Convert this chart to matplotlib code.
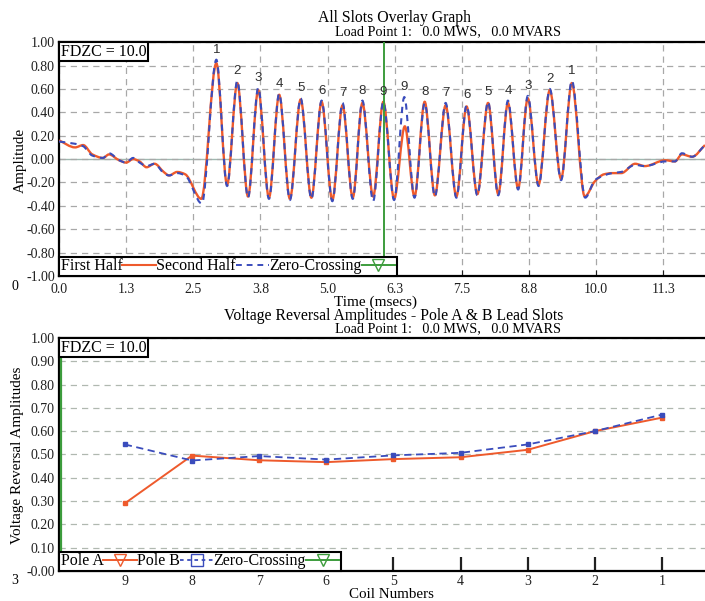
import numpy as np
import matplotlib
matplotlib.use("Agg")
import matplotlib.pyplot as plt
from matplotlib.path import Path
from matplotlib.patches import PathPatch
from matplotlib.lines import Line2D

plt.rcParams['font.family'] = ['Liberation Serif', 'DejaVu Serif']

# ---- top chart: overlay waveform (extrema / knee points) ----
first_t = [0.00, 0.30, 0.45, 0.62, 0.82, 0.93, 1.12, 1.25, 1.38, 1.50, 1.63, 1.78,
           1.95, 2.05, 2.20, 2.35, 2.65,
           2.93, 3.13, 3.32, 3.52, 3.71, 3.91, 4.10, 4.30, 4.50, 4.70, 4.89, 5.09,
           5.28, 5.47, 5.65, 5.85, 6.04, 6.24, 6.44, 6.62, 6.81, 7.00, 7.20, 7.40,
           7.59, 7.79, 7.99, 8.18, 8.36, 8.55, 8.73, 8.93, 9.14, 9.35, 9.55, 9.79,
           9.98, 10.15, 10.30, 10.47, 10.73, 10.91, 11.29, 11.47, 11.60, 11.79, 12.03]
first_a = [0.16, 0.10, 0.12, 0.04, 0.01, 0.04, -0.01, -0.03, 0.00, -0.02, -0.07, -0.04,
           -0.11, -0.14, -0.11, -0.13, -0.34,
           0.82, -0.22, 0.65, -0.32, 0.59, -0.33, 0.55, -0.34, 0.51, -0.33, 0.49, -0.35,
           0.46, -0.33, 0.48, -0.32, 0.49, -0.34, 0.28, -0.32, 0.49, -0.31, 0.46, -0.32,
           0.45, -0.30, 0.48, -0.30, 0.48, -0.25, 0.52, -0.22, 0.59, -0.17, 0.65, -0.32,
           -0.19, -0.13, -0.12, -0.12, -0.04, -0.06, -0.01, -0.02, 0.04, 0.02, 0.12]

second_t = [0.00, 0.31, 0.45, 0.62, 0.82, 0.93, 1.12, 1.25, 1.38, 1.50, 1.63, 1.78,
            1.95, 2.05, 2.20, 2.35, 2.66,
            2.93, 3.13, 3.32, 3.52, 3.71, 3.91, 4.10, 4.30, 4.50, 4.70, 4.89, 5.09,
            5.28, 5.47, 5.65, 5.85, 6.04, 6.24, 6.43, 6.62, 6.81, 7.00, 7.20, 7.40,
            7.59, 7.79, 7.99, 8.18, 8.36, 8.55, 8.73, 8.93, 9.14, 9.35, 9.55, 9.80,
            9.98, 10.15, 10.30, 10.47, 10.73, 10.91, 11.29, 11.47, 11.60, 11.79, 12.03]
second_a = [0.15, 0.13, 0.11, 0.03, 0.01, 0.05, -0.01, -0.03, 0.01, -0.03, -0.06, -0.04,
            -0.12, -0.14, -0.12, -0.14, -0.38,
            0.85, -0.23, 0.67, -0.33, 0.61, -0.34, 0.56, -0.35, 0.52, -0.34, 0.50, -0.36,
            0.48, -0.34, 0.50, -0.36, 0.49, -0.35, 0.53, -0.33, 0.48, -0.32, 0.48, -0.33,
            0.46, -0.31, 0.49, -0.31, 0.50, -0.26, 0.54, -0.23, 0.60, -0.18, 0.67, -0.33,
            -0.18, -0.14, -0.12, -0.11, -0.05, -0.06, -0.02, -0.02, 0.05, 0.02, 0.12]

peak_labels = ['1', '2', '3', '4', '5', '6', '7', '8', '9',
               '9', '8', '7', '6', '5', '4', '3', '2', '1']
zero_cross_t = 6.05

time_ticks = [0.0, 1.25, 2.5, 3.75, 5.0, 6.25, 7.5, 8.75, 10.0, 11.25]
time_tick_labels = ['0.0', '1.3', '2.5', '3.8', '5.0', '6.3', '7.5', '8.8', '10.0', '11.3']
amp_ticks = [1.0, 0.8, 0.6, 0.4, 0.2, 0.0, -0.2, -0.4, -0.6, -0.8, -1.0]

# ---- bottom chart: reversal amplitudes per coil ----
coils = [9, 8, 7, 6, 5, 4, 3, 2, 1]
pole_a = [0.29, 0.495, 0.475, 0.467, 0.48, 0.488, 0.52, 0.60, 0.658]
pole_b = [0.543, 0.474, 0.493, 0.478, 0.496, 0.507, 0.543, 0.60, 0.671]
vr_ticks = [1.0, 0.9, 0.8, 0.7, 0.6, 0.5, 0.4, 0.3, 0.2, 0.1, 0.0]
vr_tick_labels = ['1.00', '0.90', '0.80', '0.70', '0.60', '0.50', '0.40', '0.30',
                  '0.20', '0.10', '-0.00']

RED = '#ee5a2c'
BLUE = '#3a4cbc'
GREEN = '#3c9c3c'
GRID = '#a8a8a8'


def smooth_path(t, a):
    # cubic Bezier through the read points, flat at turning points
    t = np.asarray(t, float)
    a = np.asarray(a, float)
    h = np.diff(t)
    d = np.diff(a) / h
    m = np.zeros_like(a)
    for i in range(1, len(a) - 1):
        if d[i - 1] * d[i] > 0:
            m[i] = 2.0 / (1.0 / d[i - 1] + 1.0 / d[i])
    m[0] = d[0]
    m[-1] = d[-1]
    verts = [(t[0], a[0])]
    codes = [Path.MOVETO]
    for i in range(len(h)):
        verts += [(t[i] + h[i] / 3, a[i] + m[i] * h[i] / 3),
                  (t[i + 1] - h[i] / 3, a[i + 1] - m[i + 1] * h[i] / 3),
                  (t[i + 1], a[i + 1])]
        codes += [Path.CURVE4] * 3
    return Path(verts, codes)


def fdzc_box(ax):
    ax.text(0.003, 0.993, 'FDZC = 10.0', transform=ax.transAxes, ha='left', va='top',
            fontsize=11.5, zorder=10,
            bbox=dict(boxstyle='square,pad=0.1', fc='white', ec='black', lw=1.5))


def style_axes(ax):
    for side in ['top', 'bottom', 'left']:
        ax.spines[side].set_linewidth(1.6)
    ax.spines['right'].set_visible(False)
    ax.tick_params(labelsize=10, colors='#202020', pad=3)


fig = plt.figure(figsize=(7.05, 6.01), dpi=100)

# ================= top =================
ax1 = fig.add_axes([0.0837, 0.5408, 0.9163, 0.389])
ax1.set_xlim(0, 12.03)
ax1.set_ylim(-1.0, 1.0)
ax1.set_xticks(time_ticks)
ax1.set_xticklabels(time_tick_labels)
ax1.set_yticks(amp_ticks)
ax1.set_yticklabels(['%.2f' % v for v in amp_ticks])
ax1.grid(True, color=GRID, linestyle=(0, (5, 4)), linewidth=0.9)
ax1.tick_params(axis='x', direction='in', length=4, width=0.8, color=GRID)
ax1.tick_params(axis='y', length=0)
ax1.axhline(0, color='#9fb8b0', linewidth=1.0, zorder=1)
style_axes(ax1)
ax1.tick_params(axis='x', pad=5)

ax1.add_patch(PathPatch(smooth_path(first_t, first_a), fill=False, ec=RED, lw=1.7, zorder=3))
ax1.add_patch(PathPatch(smooth_path(second_t, second_a), fill=False, ec=BLUE, lw=1.5,
                        linestyle=(0, (3, 2.5)), zorder=4))
ax1.axvline(zero_cross_t, color=GREEN, lw=1.4, zorder=5)

# number labels over the peaks
first_a_arr = np.array(first_a)
second_a_arr = np.array(second_a)
peak_idx = list(range(17, 52, 2))
for lbl, i in zip(peak_labels, peak_idx):
    top = max(first_a_arr[i], second_a_arr[i])
    ax1.text(second_t[i], top + 0.085, lbl, ha='center', va='center', fontsize=9.5,
             family=['Liberation Sans', 'DejaVu Sans'], color='#303030', zorder=6)

fdzc_box(ax1)
h1 = [Line2D([], [], color=RED, lw=1.5),
      Line2D([], [], color=BLUE, lw=1.4, linestyle=(0, (3, 2.5))),
      Line2D([], [], color=GREEN, lw=1.4, marker='v', markersize=9,
             markerfacecolor='none', markeredgecolor=GREEN)]
leg1 = ax1.legend(h1, ['First Half', 'Second Half', 'Zero-Crossing'], loc='lower left',
                  bbox_to_anchor=(0, 0), borderaxespad=0, ncol=3, markerfirst=False,
                  fontsize=11.5, handlelength=2.1, handletextpad=0.0, columnspacing=0.0,
                  borderpad=0.1, fancybox=False, framealpha=1, edgecolor='black')
leg1.get_frame().set_linewidth(1.5)
leg1.set_zorder(10)

fig.text(394 / 705, 1 - 18 / 601, 'All Slots Overlay Graph', ha='center', va='center',
         fontsize=11.3)
fig.text(448 / 705, 1 - 32 / 601, 'Load Point 1:   0.0 MWS,   0.0 MVARS', ha='center',
         va='center', fontsize=10.2)
fig.text(20 / 705, 1 - 160 / 601, 'Amplitude', rotation=90, ha='center', va='center',
         fontsize=11)
fig.text(376 / 705, 1 - 302 / 601, 'Time (msecs)', ha='center', va='center', fontsize=11)
fig.text(15 / 705, 1 - 287 / 601, '0', ha='center', va='center', fontsize=10)

# ================= bottom =================
ax2 = fig.add_axes([0.0837, 0.050, 0.9163, 0.3877])
ax2.set_xlim(9.98, 0.36)
ax2.set_ylim(0.0, 1.0)
ax2.set_xticks(coils)
ax2.set_xticklabels([str(c) for c in coils])
ax2.set_yticks(vr_ticks)
ax2.set_yticklabels(vr_tick_labels)
ax2.yaxis.grid(True, color='#b0b8b0', linestyle=(0, (5, 4)), linewidth=0.9)
ax2.tick_params(axis='x', direction='in', length=10, width=1.6, color='#202020')
ax2.tick_params(axis='y', length=0)
style_axes(ax2)
ax2.tick_params(axis='x', pad=3)

ax2.plot(coils, pole_a, color=RED, lw=1.4, marker='s', markersize=2.5, zorder=3)
ax2.plot(coils, pole_b, color=BLUE, lw=1.3, linestyle=(0, (4, 2.5)), marker='s',
         markersize=2.5, zorder=4)
ax2.axvline(9.95, color=GREEN, lw=1.6, zorder=5)

fdzc_box(ax2)
h2 = [Line2D([], [], color=RED, lw=1.4, marker='v', markersize=9,
             markerfacecolor='none', markeredgecolor=RED),
      Line2D([], [], color=BLUE, lw=1.3, linestyle=(0, (2, 2)), marker='s', markersize=8,
             markerfacecolor='none', markeredgecolor=BLUE),
      Line2D([], [], color=GREEN, lw=1.4, marker='v', markersize=9,
             markerfacecolor='none', markeredgecolor=GREEN)]
leg2 = ax2.legend(h2, ['Pole A', 'Pole B', 'Zero-Crossing'], loc='lower left',
                  bbox_to_anchor=(0, 0), borderaxespad=0, ncol=3, markerfirst=False,
                  fontsize=11.5, handlelength=2.1, handletextpad=0.0, columnspacing=0.0,
                  borderpad=0.1, fancybox=False, framealpha=1, edgecolor='black')
leg2.get_frame().set_linewidth(1.5)
leg2.set_zorder(10)

fig.text(394 / 705, 1 - 316 / 601, 'Voltage Reversal Amplitudes - Pole A & B Lead Slots',
         ha='center', va='center', fontsize=11.3)
fig.text(448 / 705, 1 - 329 / 601, 'Load Point 1:   0.0 MWS,   0.0 MVARS', ha='center',
         va='center', fontsize=10.2)
fig.text(18 / 705, 1 - 455 / 601, 'Voltage Reversal Amplitudes', rotation=90, ha='center',
         va='center', fontsize=11)
fig.text(391 / 705, 1 - 594 / 601, 'Coil Numbers', ha='center', va='center', fontsize=10.8)
fig.text(15 / 705, 1 - 581 / 601, '3', ha='center', va='center', fontsize=10)

fig.savefig('out.png', dpi=100)
